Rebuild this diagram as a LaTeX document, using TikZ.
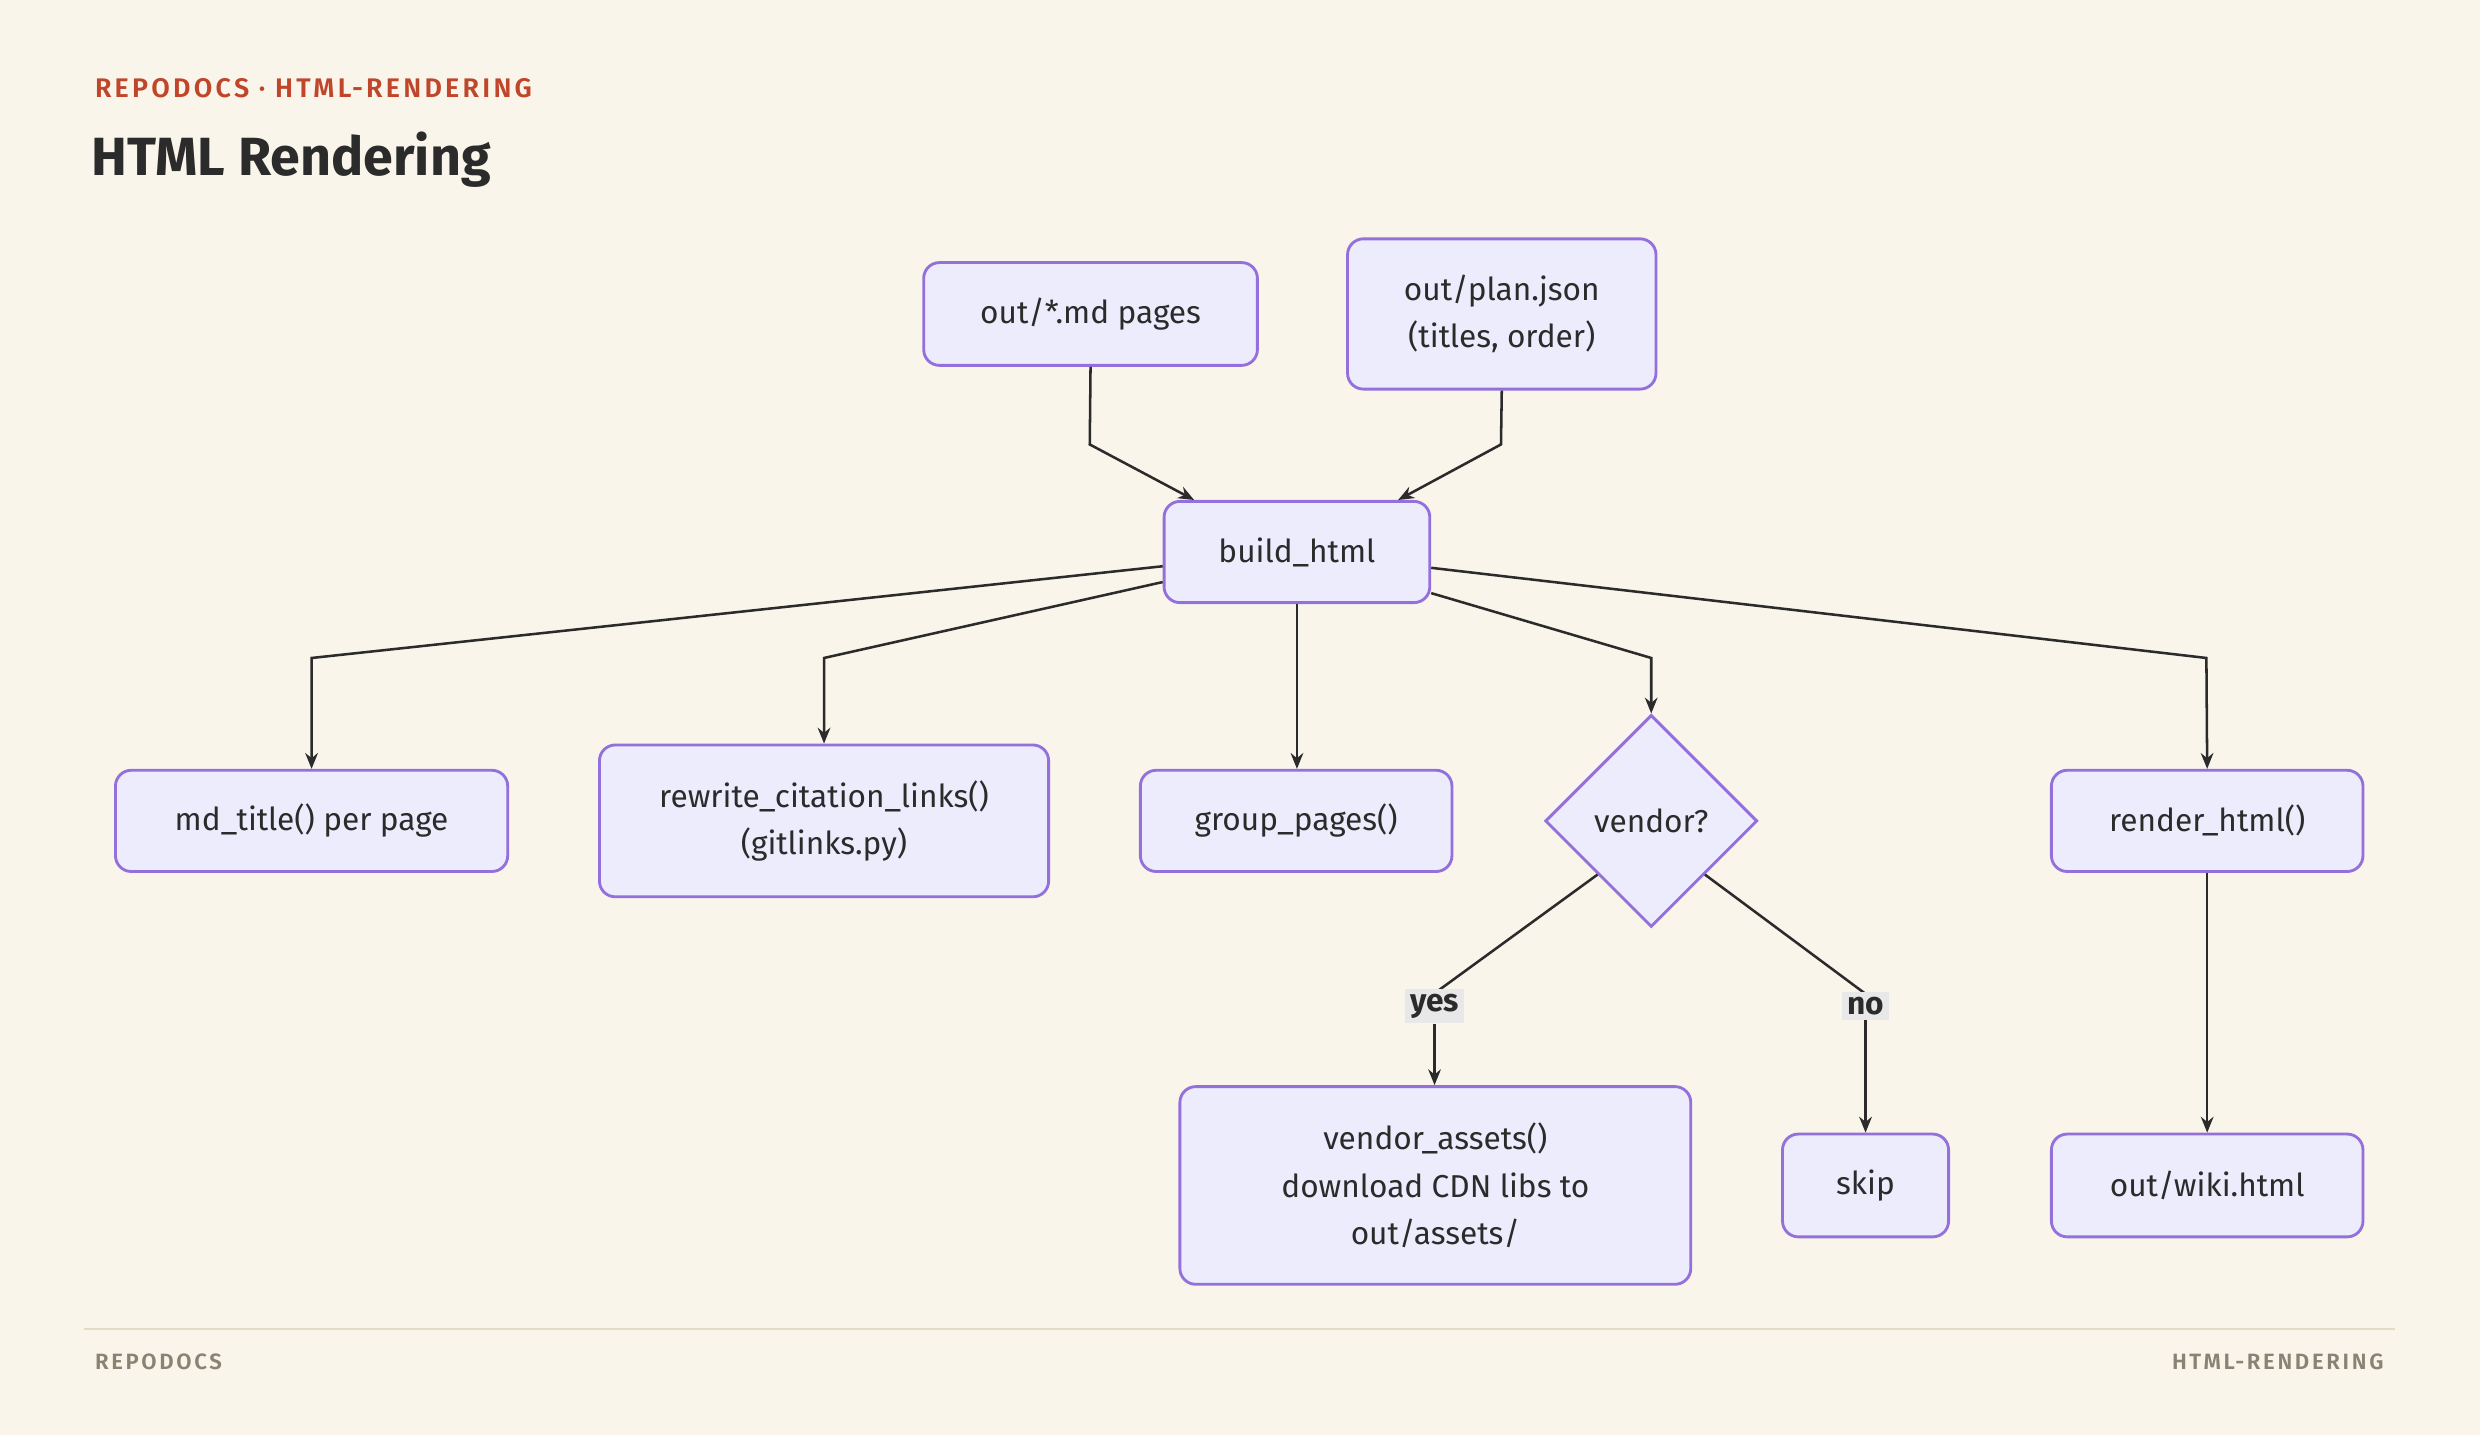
\documentclass[tikz,border=0pt]{standalone}
\usepackage{fontspec}
\setmainfont{Fira Sans}
\newfontfamily\spacedfont[LetterSpace=12]{Fira Sans SemiBold}
\usetikzlibrary{arrows.meta,shapes.geometric}
\definecolor{bg}{HTML}{F9F5EA}
\definecolor{nfill}{HTML}{ECECFC}
\definecolor{nline}{HTML}{9370DB}
\definecolor{edge}{HTML}{2B2B2B}
\definecolor{accent}{HTML}{C0462B}
\definecolor{foot}{HTML}{8A8272}
\definecolor{rule}{HTML}{E2DCC2}
\begin{document}
\begin{tikzpicture}[x=0.5pt,y=-0.5pt,
  box/.style={draw=nline,fill=nfill,line width=0.9pt,rounded corners=5pt,align=center,font=\fontsize{10}{15}\selectfont,text=edge,inner sep=0pt},
  dia/.style={draw=nline,fill=nfill,line width=0.9pt,diamond,aspect=1,minimum width=67pt,minimum height=67pt,inner sep=0pt,font=\fontsize{10}{15}\selectfont,text=edge},
  arr/.style={draw=edge,line width=0.8pt,-{Stealth[length=5pt,width=4pt]}},
  lbl/.style={fill=black!9,font=\bfseries\fontsize{10}{12}\selectfont,text=edge,inner sep=1.5pt}]
\fill[bg] (0,0) rectangle (1568,907);
\useasboundingbox (0,0) rectangle (1568,907);
\node[anchor=west,text=accent,font=\spacedfont\fontsize{8.5}{10}\selectfont] (hdr) at (53,56) {REPODOCS · HTML-RENDERING};
\node[anchor=west,text=edge,font=\bfseries\fontsize{17}{20}\selectfont] (ttl) at (51,101) {HTML Rendering};
\draw[rule,line width=0.6pt] (53,840) -- (1514,840);
\node[anchor=west,text=foot,font=\spacedfont\fontsize{7}{9}\selectfont] (fl) at (53,861) {REPODOCS};
\node[anchor=east,text=foot,font=\spacedfont\fontsize{7}{9}\selectfont] (fr) at (1514,861) {HTML-RENDERING};

\node[box,minimum width=105.5pt,minimum height=32.5pt] (md) at (689.5,198.5) {out/*.md pages};
\node[box,minimum width=97.5pt,minimum height=47.5pt] (plan) at (949.5,198.5) {out/plan.json\\(titles, order)};
\node[box,minimum width=84pt,minimum height=32pt] (build) at (820,349) {build\_html};
\node[box,minimum width=124pt,minimum height=32pt] (mdt) at (197,519) {md\_title() per page};
\node[box,minimum width=142pt,minimum height=48pt] (rw) at (521,519) {rewrite\_citation\_links()\\(gitlinks.py)};
\node[box,minimum width=98.5pt,minimum height=32pt] (grp) at (819.5,519) {group\_pages()};
\node[dia] (ven) at (1044,519) {vendor?};
\node[box,minimum width=98.5pt,minimum height=32pt] (rend) at (1395.5,519) {render\_html()};
\node[box,minimum width=161.5pt,minimum height=62.5pt] (va) at (907.5,749.5) {vendor\_assets()\\download CDN libs to\\out/assets/};
\node[box,minimum width=52.5pt,minimum height=32.5pt] (skip) at (1179.5,749.5) {skip};
\node[box,minimum width=98.5pt,minimum height=32.5pt] (wiki) at (1395.5,749.5) {out/wiki.html};

\draw[arr] (md.south) -- (689,281) -- (build.north west -| 755,0);
\draw[arr] (plan.south) -- (949,281) -- (build.north west -| 884,0);
\draw[arr] (build.west |- 0,358) -- (197,416) -- (mdt.north);
\draw[arr] (build.west |- 0,368) -- (521,416) -- (rw.north);
\draw[arr] (build.south) -- (grp.north -| build.south);
\draw[arr] (build.east |- 0,375) -- (1044,416) -- (ven.north);
\draw[arr] (build.east |- 0,359) -- (1395,416) -- (rend.north);
\draw[draw=edge,line width=0.8pt] (ven.south west) -- (907,628);
\node[lbl] (yes) at (907,636) {yes};
\draw[arr] (yes.south) -- (va.north -| yes.south);
\draw[draw=edge,line width=0.8pt] (ven.south east) -- (1179,628);
\node[lbl] (no) at (1179.5,636) {no};
\draw[arr] (no.south) -- (skip.north);
\draw[arr] (rend.south) -- (wiki.north);
\end{tikzpicture}
\end{document}
